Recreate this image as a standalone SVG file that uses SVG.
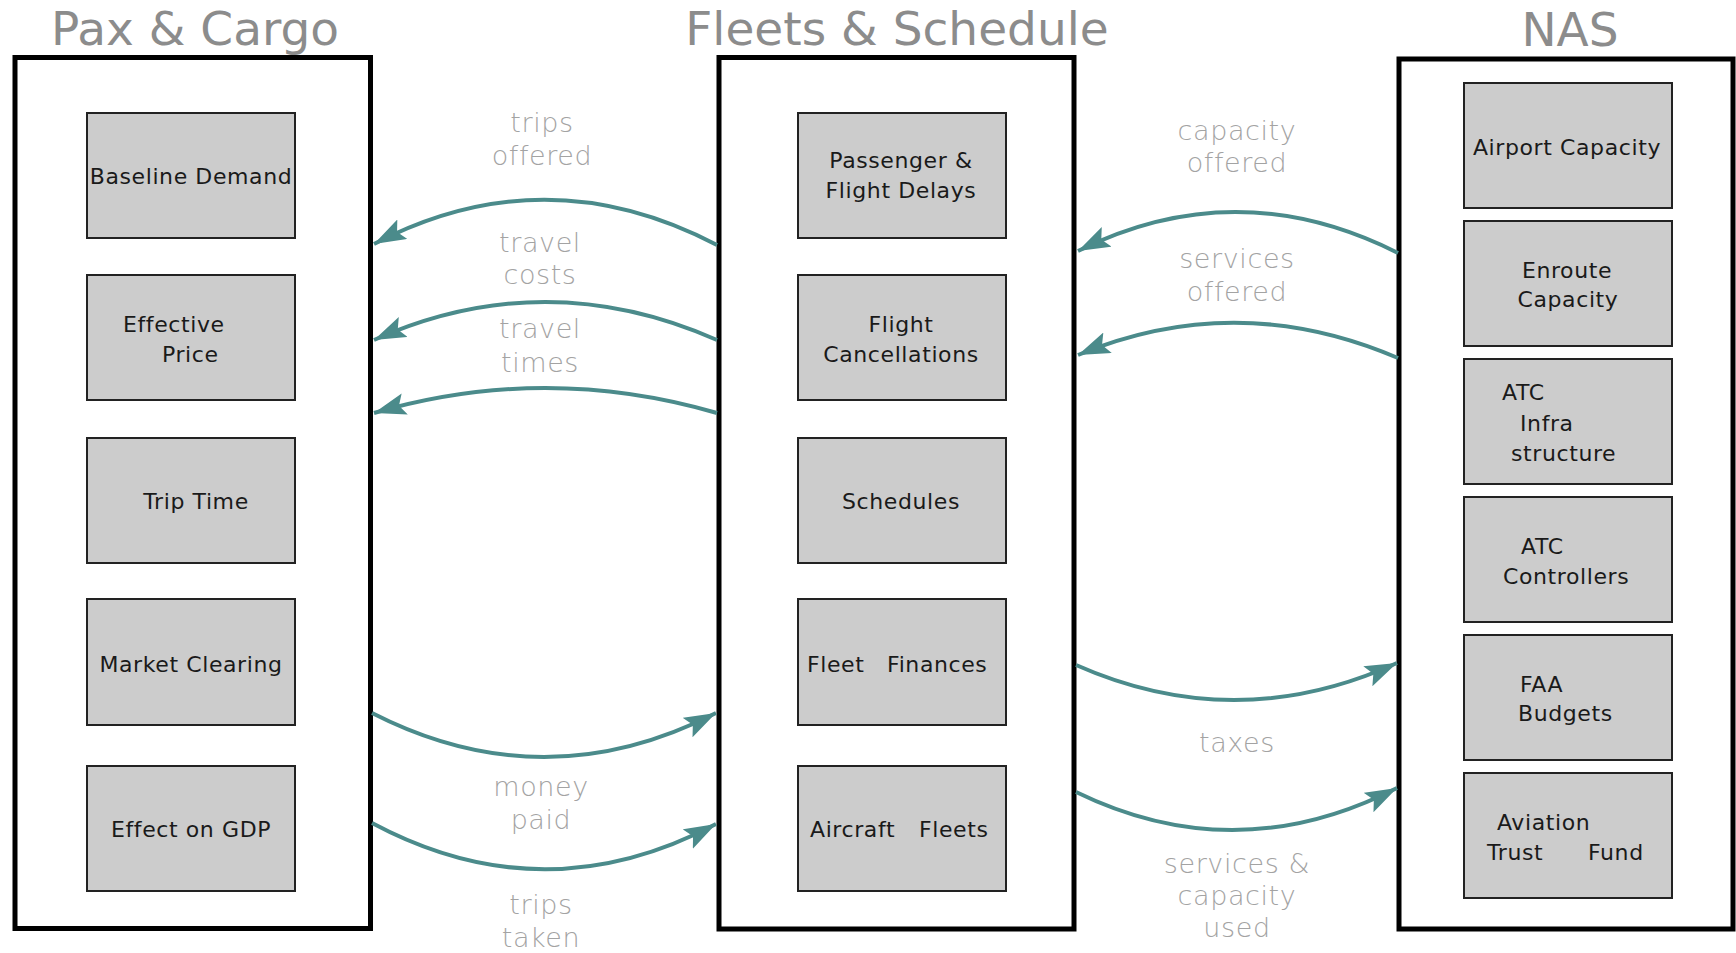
<svg xmlns="http://www.w3.org/2000/svg" width="1736" height="953" viewBox="0 0 1736 953">
<defs>
<style>
.title{font-family:"DejaVu Sans","Liberation Sans",sans-serif;font-size:47px;fill:#8c8c8c;text-anchor:middle}
.frame{fill:#ffffff;stroke:#000000;stroke-width:5}
.node rect{fill:#cccccc;stroke:#222222;stroke-width:2}
.node text{font-family:"DejaVu Sans","Liberation Sans",sans-serif;font-size:22px;letter-spacing:0.6px;fill:#1a1a1a}
.c{text-anchor:middle}
.lbl{font-family:"DejaVu Sans","Liberation Sans",sans-serif;font-size:27px;letter-spacing:0.6px;font-weight:200;fill:#a3a3a3;text-anchor:middle}
.edge{fill:none;stroke:#4b8b8b;stroke-width:4;marker-end:url(#ah)}
</style>
<marker id="ah" markerUnits="userSpaceOnUse" markerWidth="40" markerHeight="30" refX="32" refY="11" orient="auto">
<path d="M0,0 L32,11 L0,22 L6,11 z" fill="#4b8b8b"/>
</marker>
</defs>
<rect x="0" y="0" width="1736" height="953" fill="#ffffff"/>

<g id="titles">
<text class="title" x="195" y="45">Pax &amp; Cargo</text>
<text class="title" x="897" y="45">Fleets &amp; Schedule</text>
<text class="title" x="1570" y="46">NAS</text>
</g>

<g id="pax-cargo">
<rect class="frame" x="15" y="57.5" width="355.5" height="871"/>
</g>
<g id="fleets-schedule">
<rect class="frame" x="719" y="57.5" width="355" height="871.5"/>
</g>
<g id="nas">
<rect class="frame" x="1399" y="59" width="334" height="870"/>
</g>

<g id="baseline-demand" class="node"><rect x="87" y="113" width="208" height="125"/><text class="c" x="191" y="184">Baseline Demand</text></g>
<g id="effective-price" class="node"><rect x="87" y="275" width="208" height="125"/><text x="123" y="332">Effective</text><text x="162" y="362">Price</text></g>
<g id="trip-time" class="node"><rect x="87" y="438" width="208" height="125"/><text class="c" x="196" y="509">Trip Time</text></g>
<g id="market-clearing" class="node"><rect x="87" y="599" width="208" height="126"/><text class="c" x="191" y="672">Market Clearing</text></g>
<g id="effect-on-gdp" class="node"><rect x="87" y="766" width="208" height="125"/><text class="c" x="191" y="837">Effect on GDP</text></g>

<g id="passenger-flight-delays" class="node"><rect x="798" y="113" width="208" height="125"/><text class="c" x="901" y="168">Passenger &amp;</text><text class="c" x="901" y="198">Flight Delays</text></g>
<g id="flight-cancellations" class="node"><rect x="798" y="275" width="208" height="125"/><text class="c" x="901" y="332">Flight</text><text class="c" x="901" y="362">Cancellations</text></g>
<g id="schedules" class="node"><rect x="798" y="438" width="208" height="125"/><text class="c" x="901" y="509">Schedules</text></g>
<g id="fleet-finances" class="node"><rect x="798" y="599" width="208" height="126"/><text y="672"><tspan x="807">Fleet</tspan> <tspan x="887">Finances</tspan></text></g>
<g id="aircraft-fleets" class="node"><rect x="798" y="766" width="208" height="125"/><text y="837"><tspan x="810">Aircraft</tspan> <tspan x="919">Fleets</tspan></text></g>

<g id="airport-capacity" class="node"><rect x="1464" y="83" width="208" height="125"/><text class="c" x="1567" y="155">Airport Capacity</text></g>
<g id="enroute-capacity" class="node"><rect x="1464" y="221" width="208" height="125"/><text class="c" x="1567" y="278">Enroute</text><text class="c" x="1568" y="307">Capacity</text></g>
<g id="atc-infrastructure" class="node"><rect x="1464" y="359" width="208" height="125"/><text x="1502" y="400">ATC</text><text x="1520" y="431">Infra</text><text x="1511" y="461">structure</text></g>
<g id="atc-controllers" class="node"><rect x="1464" y="497" width="208" height="125"/><text x="1521" y="554">ATC</text><text x="1503" y="584">Controllers</text></g>
<g id="faa-budgets" class="node"><rect x="1464" y="635" width="208" height="125"/><text x="1520" y="692">FAA</text><text x="1518" y="721">Budgets</text></g>
<g id="aviation-trust-fund" class="node"><rect x="1464" y="773" width="208" height="125"/><text x="1497" y="830">Aviation</text><text y="860"><tspan x="1487">Trust</tspan> <tspan x="1588">Fund</tspan></text></g>

<g id="connectors">
<path class="edge" d="M717,245 Q545,155 374,244"/>
<path class="edge" d="M717,340 Q545,264 374,340"/>
<path class="edge" d="M717,413 Q545,363 374,413"/>
<path class="edge" d="M1398,253 Q1237,172 1078,251"/>
<path class="edge" d="M1398,358 Q1237,289 1078,355"/>
<path class="edge" d="M372,713 Q544,801 716,713"/>
<path class="edge" d="M372,823 Q544,915 716,824"/>
<path class="edge" d="M1076,665 Q1236,736 1397,663"/>
<path class="edge" d="M1076,792 Q1236,870 1397,788"/>
</g>

<g id="labels">
<text class="lbl" x="542" y="132">trips</text>
<text class="lbl" x="542" y="165">offered</text>
<text class="lbl" x="540" y="252">travel</text>
<text class="lbl" x="540" y="284">costs</text>
<text class="lbl" x="540" y="338">travel</text>
<text class="lbl" x="540" y="372">times</text>
<text class="lbl" x="1237" y="140">capacity</text>
<text class="lbl" x="1237" y="172">offered</text>
<text class="lbl" x="1237" y="268">services</text>
<text class="lbl" x="1237" y="301">offered</text>
<text class="lbl" x="541" y="796">money</text>
<text class="lbl" x="541" y="829">paid</text>
<text class="lbl" x="541" y="914">trips</text>
<text class="lbl" x="541" y="947">taken</text>
<text class="lbl" x="1237" y="752">taxes</text>
<text class="lbl" x="1237" y="873">services &amp;</text>
<text class="lbl" x="1237" y="905">capacity</text>
<text class="lbl" x="1237" y="937">used</text>
</g>
</svg>
